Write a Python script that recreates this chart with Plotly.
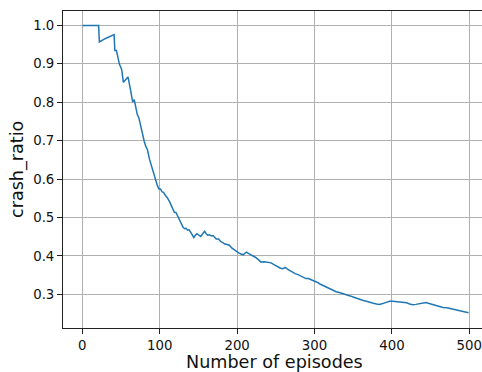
import plotly.graph_objects as go

# Cumulative crash ratio per training episode
episodes = [
    0, 21, 22, 30, 41, 42, 44, 45, 48, 50, 51, 53, 56, 59, 62, 65, 67, 71, 73, 77,
    80, 82, 84, 87, 90, 94, 97, 99, 101, 103, 105, 108, 110, 113, 116, 119, 121, 124,
    127, 130, 132, 134, 136, 138, 141, 144, 146, 148, 150, 153, 156, 158, 160, 162,
    164, 167, 169, 171, 173, 176, 179, 182, 184, 187, 190, 193, 196, 199, 202, 205,
    208, 210, 212, 215, 218, 221, 224, 227, 231, 235, 238, 241, 244, 247, 250, 253,
    256, 259, 262, 265, 268, 271, 275, 278, 281, 285, 289, 292, 296, 300, 304, 307,
    312, 316, 320, 324, 328, 333, 337, 341, 346, 350, 354, 358, 363, 367, 371, 376,
    380, 384, 388, 391, 394, 397, 401, 406, 410, 415, 419, 423, 427, 431, 436, 440,
    444, 447, 450, 455, 459, 462, 466, 471, 475, 480, 484, 489, 494, 499,
]
crash_ratio = [
    1.0, 1.0, 0.957, 0.966, 0.976, 0.935, 0.935, 0.924, 0.898, 0.890, 0.883, 0.852,
    0.860, 0.866, 0.835, 0.801, 0.807, 0.768, 0.760, 0.720, 0.698, 0.685, 0.677,
    0.650, 0.628, 0.605, 0.583, 0.574, 0.574, 0.567, 0.565, 0.556, 0.551, 0.540,
    0.526, 0.513, 0.513, 0.499, 0.486, 0.475, 0.471, 0.472, 0.467, 0.468, 0.458,
    0.448, 0.454, 0.458, 0.455, 0.451, 0.459, 0.464, 0.458, 0.454, 0.455, 0.452,
    0.453, 0.448, 0.444, 0.444, 0.437, 0.434, 0.431, 0.430, 0.428, 0.421, 0.416,
    0.411, 0.408, 0.405, 0.403, 0.407, 0.410, 0.406, 0.403, 0.399, 0.396, 0.391,
    0.384, 0.385, 0.384, 0.383, 0.382, 0.378, 0.374, 0.370, 0.368, 0.367, 0.370,
    0.366, 0.362, 0.358, 0.354, 0.352, 0.349, 0.346, 0.341, 0.341, 0.338, 0.335,
    0.331, 0.327, 0.322, 0.318, 0.314, 0.310, 0.307, 0.304, 0.302, 0.299, 0.296,
    0.293, 0.290, 0.286, 0.284, 0.282, 0.279, 0.277, 0.275, 0.274, 0.276, 0.278,
    0.280, 0.282, 0.282, 0.281, 0.280, 0.279, 0.278, 0.275, 0.273, 0.274, 0.276,
    0.277, 0.279, 0.277, 0.275, 0.272, 0.269, 0.267, 0.266, 0.265, 0.263, 0.260,
    0.258, 0.256, 0.254, 0.252,
]

x_ticks = [0, 100, 200, 300, 400, 500]
y_ticks = [0.3, 0.4, 0.5, 0.6, 0.7, 0.8, 0.9, 1.0]

FONT = "DejaVu Sans"

fig = go.Figure(
    go.Scatter(
        x=episodes,
        y=crash_ratio,
        mode="lines",
        line=dict(color="#1f77b4", width=1.5),
        hoverinfo="skip",
    )
)

axis_common = dict(
    showgrid=True,
    gridcolor="#b0b0b0",
    gridwidth=1,
    zeroline=False,
    showline=True,
    linecolor="#222222",
    linewidth=1,
    ticks="outside",
    ticklen=5,
    tickwidth=1,
    tickcolor="#222222",
    tickfont=dict(family=FONT, size=13.3, color="#111111"),
    ticklabeloverflow="allow",
)

fig.update_xaxes(
    range=[-25.0, 516.4],
    tickvals=x_ticks,
    ticktext=[str(v) for v in x_ticks],
    mirror=True,
    **axis_common,
)
fig.update_yaxes(
    range=[0.2125, 1.0375],
    tickvals=y_ticks,
    ticktext=[f"{v:.1f}" for v in y_ticks],
    **axis_common,
)

fig.update_layout(
    width=482,
    height=372,
    margin=dict(l=63, r=0, t=11, b=44),
    paper_bgcolor="white",
    plot_bgcolor="white",
    showlegend=False,
    font=dict(family=FONT, color="#111111"),
    annotations=[
        dict(
            text="Number of episodes",
            xref="paper", yref="paper",
            x=(274.5 - 63) / (482 - 63), y=0,
            xanchor="center", yanchor="middle",
            yshift=-(361.5 - 328),
            showarrow=False,
            font=dict(family=FONT, size=17.6, color="#111111"),
        ),
        dict(
            text="crash_ratio",
            xref="paper", yref="paper",
            x=0, y=0.5,
            xanchor="center", yanchor="middle",
            xshift=-(63 - 17.5),
            textangle=-90,
            showarrow=False,
            font=dict(family=FONT, size=17.6, color="#111111"),
        ),
    ],
)

fig.write_html("out.html")
